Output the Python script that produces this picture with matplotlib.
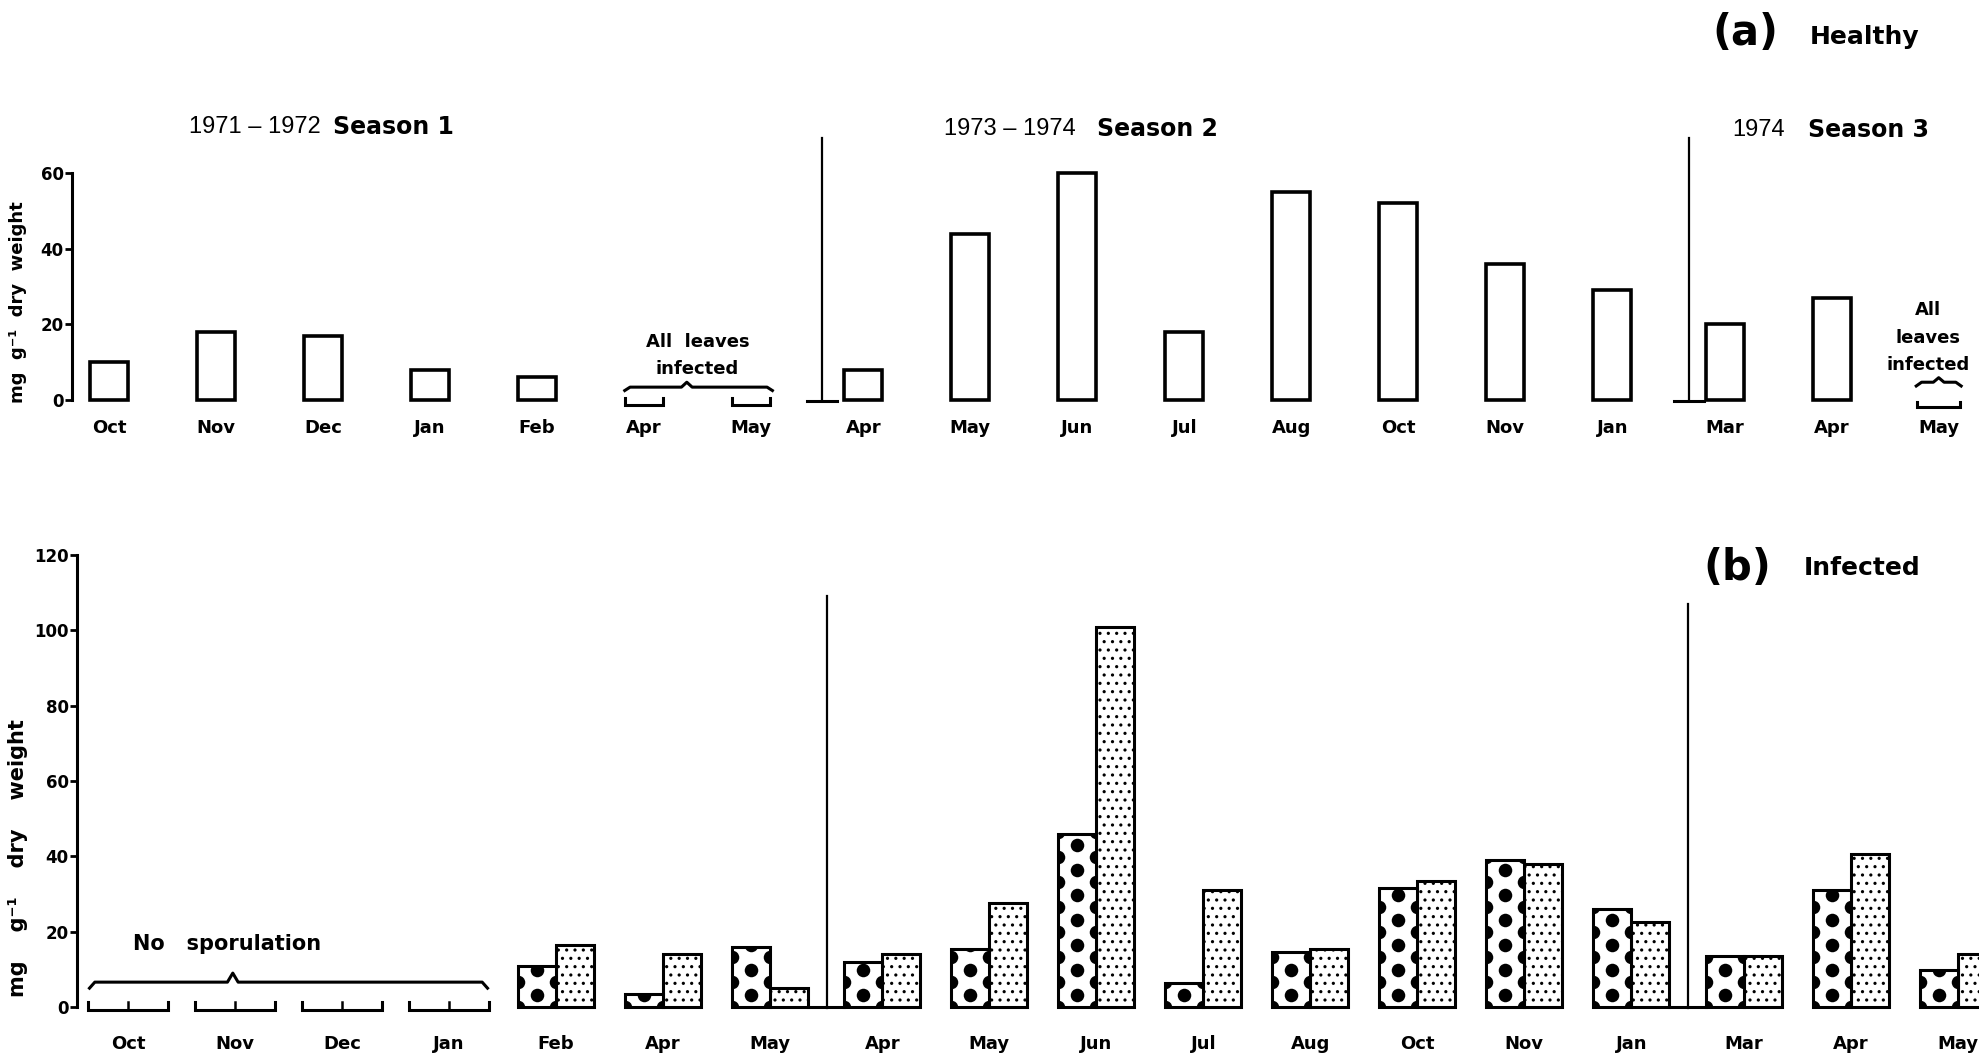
import numpy as np
import matplotlib.pyplot as plt

plt.rcParams['font.family'] = ['DejaVu Sans']
plt.rcParams['hatch.linewidth'] = 1.1

# sampling months, by season
season1_months = ['Oct', 'Nov', 'Dec', 'Jan', 'Feb', 'Apr', 'May']
season2_months = ['Apr', 'May', 'Jun', 'Jul', 'Aug', 'Oct', 'Nov', 'Jan']
season3_months = ['Mar', 'Apr', 'May']

# (a) healthy leaves, mg g-1 dry weight (None: all leaves infected)
healthy_s1 = [10, 18, 17, 8, 6, None, None]
healthy_s2 = [8, 44, 60, 18, 55, 52, 36, 29]
healthy_s3 = [20, 27, None]

# (b) infected leaves, two fractions (None: no sporulation)
spotted_s1 = [None, None, None, None, 11, 3.5, 16]
spotted_s2 = [12, 15.5, 46, 6.3, 14.5, 31.5, 39, 26]
spotted_s3 = [13.5, 31, 9.7]
stippled_s1 = [None, None, None, None, 16.5, 14, 5]
stippled_s2 = [14, 27.5, 101, 31, 15.5, 33.5, 38, 22.5]
stippled_s3 = [13.5, 40.5, 14.2]

months = season1_months + season2_months + season3_months
healthy = healthy_s1 + healthy_s2 + healthy_s3
spotted = spotted_s1 + spotted_s2 + spotted_s3
stippled = stippled_s1 + stippled_s2 + stippled_s3

n1, n2, n3 = len(season1_months), len(season2_months), len(season3_months)
pos = np.concatenate([np.arange(n1),
                      np.arange(n1, n1 + n2) + 0.05,
                      np.arange(n1 + n2, n1 + n2 + n3) + 0.1])

W, H = 1979, 1056
fig = plt.figure(figsize=(W / 100, H / 100), dpi=100)

BW = 0.355


def px_rect(left, top, bottom):
    return [left / W, 1 - bottom / H, 1 - left / W, (bottom - top) / H]


def style_axis(ax, ymax, yticks):
    for s in ['top', 'right', 'bottom']:
        ax.spines[s].set_visible(False)
    ax.spines['left'].set_bounds(0, ymax)
    ax.spines['left'].set_linewidth(2.2)
    ax.set_yticks(yticks)
    ax.set_yticklabels([str(t) for t in yticks], fontsize=12, fontweight='bold')
    ax.tick_params(axis='y', direction='out', length=5, width=2, pad=1)
    ax.set_xticks(pos)
    ax.set_xticklabels(months, fontsize=13, fontweight='bold')
    ax.tick_params(axis='x', length=0)


def small_bracket(ax, xc, half, y0, y1, mid=False):
    xs = [xc - half, xc - half, xc + half, xc + half]
    ys = [y1, y0, y0, y1]
    ax.plot(xs, ys, color='black', lw=2.2, solid_joinstyle='miter', clip_on=False)
    if mid:
        ax.plot([xc, xc], [y0, y1], color='black', lw=1.8, clip_on=False)


def brace(ax, x0, x1, xp, y, drop, rise, lw=2.2):
    e = 0.05
    xs = [x0, x0 + e, xp - e, xp, xp + e, x1 - e, x1]
    ys = [y - drop, y, y, y + rise, y, y, y - drop]
    ax.plot(xs, ys, color='black', lw=lw, clip_on=False)


# ---------------- (a) healthy ----------------
ax1 = fig.add_axes(px_rect(72, 100, 412))
ax1.set_xlim((72 - 109) / 107, (W - 109) / 107)
ax1.set_ylim(-(412 - 400) / 3.783, (400 - 100) / 3.783)
style_axis(ax1, 60, [0, 20, 40, 60])
ax1.tick_params(axis='x', pad=5)

idx = [i for i, v in enumerate(healthy) if v is not None]
ax1.bar(pos[idx], [healthy[i] for i in idx], width=BW, fill=False,
        edgecolor='black', linewidth=2.6)

# months with all leaves infected
for i in [5, 6]:
    small_bracket(ax1, pos[i], 0.18, -1.3, 0.5)
brace(ax1, pos[5] - 0.18, pos[6] + 0.2, (pos[5] + pos[6]) / 2 - 0.1, 3.4, 0.9, 1.3)
ax1.text((pos[5] + pos[6]) / 2, 15.3, 'All  leaves', ha='center', va='center',
         fontsize=13, fontweight='bold')
ax1.text((pos[5] + pos[6]) / 2, 8.2, 'infected', ha='center', va='center',
         fontsize=13, fontweight='bold')

small_bracket(ax1, pos[17], 0.2, -1.8, -0.5)
brace(ax1, pos[17] - 0.21, pos[17] + 0.21, pos[17], 4.7, 1.0, 1.2)
for y, t in [(23.8, 'All'), (16.4, 'leaves'), (9.3, 'infected')]:
    ax1.text(pos[17] - 0.1, y, t, ha='center', va='center',
             fontsize=13, fontweight='bold')

# season separators
for xs in [6.66, 14.77]:
    ax1.plot([xs, xs], [-0.3, 69.3], color='black', lw=1.6)
    ax1.plot([xs - 0.14, xs + 0.14], [-0.3, -0.3], color='black', lw=2.2)

# ---------------- (b) infected ----------------
ax2 = fig.add_axes(px_rect(77, 540, 1016))
ax2.set_xlim((77 - 128) / 107, (W - 128) / 107)
ax2.set_ylim(-(1016 - 1007) / 3.767, (1007 - 540) / 3.767)
style_axis(ax2, 120, [0, 20, 40, 60, 80, 100, 120])
ax2.tick_params(axis='x', pad=14)

idx = [i for i, v in enumerate(spotted) if v is not None]
xs_sp = pos[idx] - BW / 2
xs_st = pos[idx] + BW / 2
sp_vals = [spotted[i] for i in idx]
st_vals = [stippled[i] for i in idx]

ax2.bar(xs_st, st_vals, width=BW, color='white', edgecolor='black',
        linewidth=2.2, hatch='..', zorder=2)
sp_bars = ax2.bar(xs_sp, sp_vals, width=BW, color='white', edgecolor='none',
                  zorder=2)
ax2.bar(xs_sp, sp_vals, width=BW, fill=False, edgecolor='black',
        linewidth=2.2, zorder=4)

# large black spots, staggered, repeated every 25 px
per_unit = ax2.transData.transform([(0, 0), (0, 1)])
P = 25 / (per_unit[1, 1] - per_unit[0, 1])
for rect in sp_bars:
    x0, w, h = rect.get_x(), rect.get_width(), rect.get_height()
    ye = np.arange(0, h + P, P)
    ym = np.arange(P / 2, h + P, P)
    dx = np.r_[np.full(ye.size, x0), np.full(ye.size, x0 + w),
               np.full(ym.size, x0 + w / 2)]
    dy = np.r_[ye, ye, ym]
    sc = ax2.scatter(dx, dy, s=95, c='black', linewidths=0, zorder=3)
    sc.set_clip_path(rect)

# months without sporulation
for i in range(4):
    small_bracket(ax2, pos[i], 0.37, -0.8, 1.3, mid=True)
x0b, x1b = pos[0] - 0.36, pos[3] + 0.36
brace(ax2, x0b, x1b, x0b + 0.36 * (x1b - x0b), 6.6, 1.6, 2.4)
ax2.text(0.05, 16.7, 'No   sporulation', ha='left', va='center',
         fontsize=15, fontweight='bold')

for xs, a, b in [(6.53, 6, 7), (14.58, 14, 15)]:
    ax2.plot([xs, xs], [-0.3, 109 if a == 6 else 107], color='black', lw=1.6)
    ax2.plot([pos[a] + BW, pos[b] - BW], [0, 0], color='black', lw=2.2)

# axis titles and panel labels
fig.text(18 / W, 1 - 302 / H, 'mg  g\u207b\u00b9  dry  weight', rotation=90,
         ha='center', va='center', fontsize=13, fontweight='bold')
fig.text(18 / W, 1 - 858 / H, 'mg    g\u207b\u00b9    dry    weight',
         rotation=90, ha='center', va='center', fontsize=15, fontweight='bold')

fig.text(1745 / W, 1 - 33 / H, '(a)', ha='center', va='center', fontsize=30,
         fontweight='bold')
fig.text(1810 / W, 1 - 37 / H, 'Healthy', ha='left', va='center', fontsize=18,
         fontweight='bold')
fig.text(1737 / W, 1 - 568 / H, '(b)', ha='center', va='center', fontsize=30,
         fontweight='bold')
fig.text(1804 / W, 1 - 568 / H, 'Infected', ha='left', va='center', fontsize=18,
         fontweight='bold')

year_font = ['Liberation Sans Narrow', 'Liberation Sans', 'DejaVu Sans']
for x_year, x_season, y, yr, ss in [(189, 333, 127, '1971 \u2013 1972', 'Season 1'),
                                     (944, 1097, 129, '1973 \u2013 1974', 'Season 2'),
                                     (1732, 1808, 130, '1974', 'Season 3')]:
    fig.text(x_year / W, 1 - y / H, yr, ha='left', va='center', fontsize=17,
             family=year_font)
    fig.text(x_season / W, 1 - y / H, ss, ha='left', va='center', fontsize=17,
             fontweight='bold')

fig.savefig('out.png', dpi=100)
